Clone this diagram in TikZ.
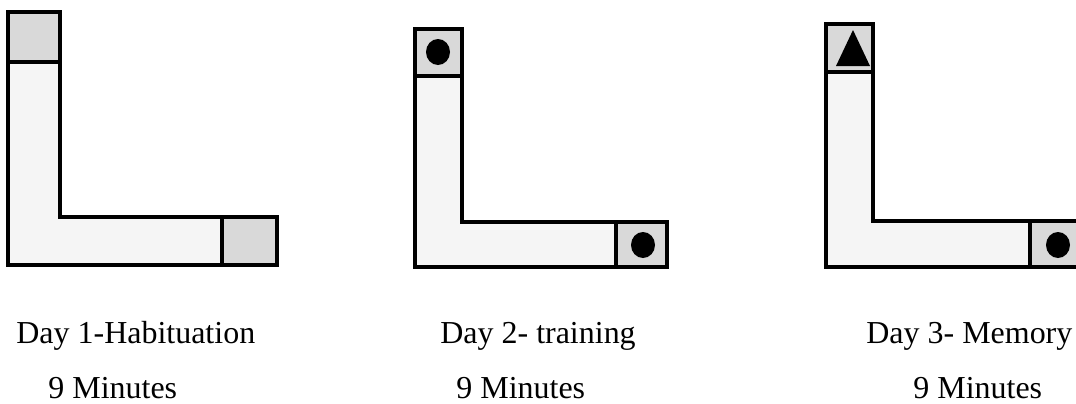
\documentclass[tikz,border=0pt]{standalone}
\usepackage{fontspec}
\setmainfont{Liberation Serif}
\begin{document}
\begin{tikzpicture}[x=0.02cm, y=-0.02cm,
  arm/.style={draw, line width=1.8pt, fill=black!4, line join=miter},
  cell/.style={draw, line width=2.4pt, fill=black!15},
  token/.style={fill=black},
  caption/.style={anchor=base west, inner sep=0pt, font=\fontsize{18.2}{20}\selectfont}]
\useasboundingbox (0,0) rectangle (1076,403);
% Day 1
\begin{scope}
\draw[arm] (8,62) -- (60,62) -- (60,217) -- (222,217) -- (222,265) -- (8,265) -- cycle;
\draw[cell] (8,12) rectangle (60,62);
\draw[cell] (222,217) rectangle (277,265);
\node[caption] (day1) at (16,343) {Day 1-Habituation};
\node[caption] (min1) at (48,398) {9 Minutes};
\end{scope}
% Day 2
\begin{scope}
\draw[arm] (415,76) -- (462,76) -- (462,222) -- (616,222) -- (616,267) -- (415,267) -- cycle;
\draw[cell] (415,29) rectangle (462,76);
\draw[cell] (616,222) rectangle (667,267);
\fill[token] (438,52) ellipse [x radius=12, y radius=13];
\fill[token] (643,245) ellipse [x radius=12, y radius=13];
\node[caption] (day2) at (440,343) {Day 2- training};
\node[caption] (min2) at (456,398) {9 Minutes};
\end{scope}
% Day 3
\begin{scope}
\draw[arm] (826,72) -- (873,72) -- (873,221) -- (1030,221) -- (1030,267) -- (826,267) -- cycle;
\draw[cell] (826,24) rectangle (873,72);
\draw[cell] (1030,221) rectangle (1082,267);
\fill[token] (853,30) -- (870,66) -- (836,66) -- cycle;
\fill[token] (1058,245) ellipse [x radius=12, y radius=13];
\node[caption] (day3) at (866,343) {Day 3- Memory};
\node[caption] (min3) at (913,398) {9 Minutes};
\end{scope}
\end{tikzpicture}
\end{document}
